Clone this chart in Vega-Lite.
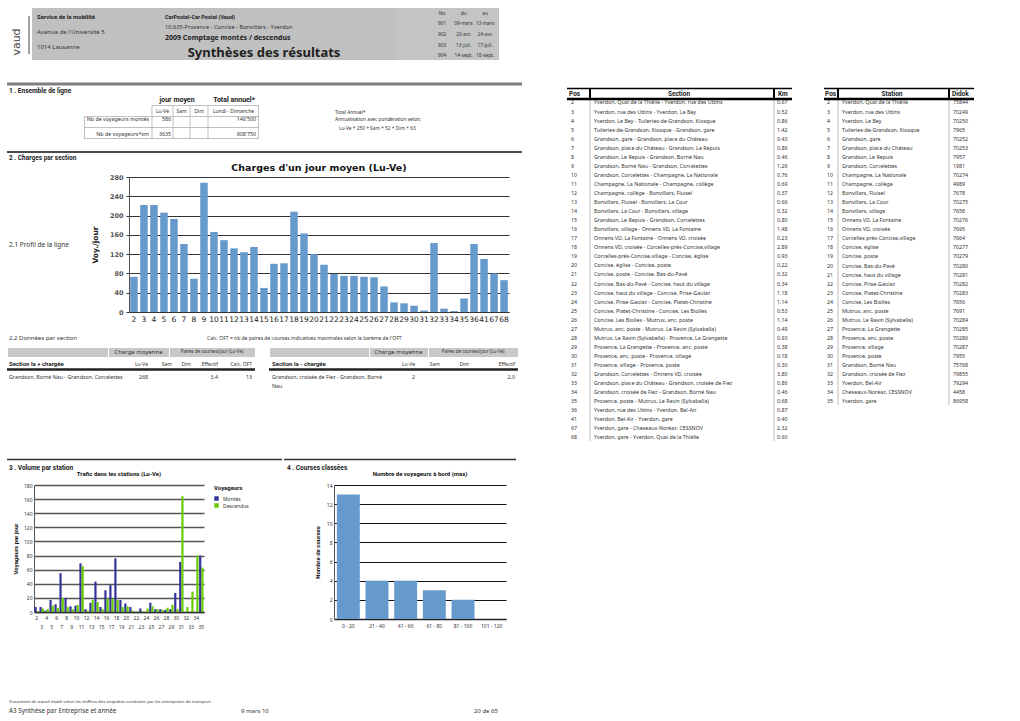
{
"$schema": "https://vega.github.io/schema/vega-lite/v6.json",
"background": "white",
"padding": {"left": 5, "top": 8, "right": 0, "bottom": 0},
"config": {"view": {"stroke": null}, "font": "Noto Sans", "text": {"font": "Noto Sans", "color": "#222"}},
"datasets": {
"charges": [{"pos":2,"charge":73},{"pos":3,"charge":222},{"pos":4,"charge":222},{"pos":5,"charge":206},{"pos":6,"charge":193},{"pos":7,"charge":141},{"pos":8,"charge":69},{"pos":9,"charge":268},{"pos":10,"charge":166},{"pos":11,"charge":149},{"pos":12,"charge":132},{"pos":13,"charge":124},{"pos":14,"charge":135},{"pos":15,"charge":50},{"pos":16,"charge":100},{"pos":17,"charge":101},{"pos":18,"charge":208},{"pos":19,"charge":163},{"pos":20,"charge":120},{"pos":21,"charge":98},{"pos":22,"charge":79},{"pos":23,"charge":75},{"pos":24,"charge":75},{"pos":25,"charge":73},{"pos":26,"charge":72},{"pos":27,"charge":53},{"pos":28,"charge":20},{"pos":29,"charge":18},{"pos":30,"charge":13},{"pos":31,"charge":3},{"pos":32,"charge":143},{"pos":33,"charge":7},{"pos":34,"charge":2},{"pos":35,"charge":28},{"pos":36,"charge":141},{"pos":41,"charge":110},{"pos":67,"charge":80},{"pos":68,"charge":66}],
"trafic": [
{"station":2,"type":"Montés","v":7},{"station":2,"type":"Descendus","v":1},
{"station":3,"type":"Montés","v":7},{"station":3,"type":"Descendus","v":5},
{"station":4,"type":"Montés","v":2},{"station":4,"type":"Descendus","v":4},
{"station":5,"type":"Montés","v":17},{"station":5,"type":"Descendus","v":9},
{"station":6,"type":"Montés","v":11},{"station":6,"type":"Descendus","v":6},
{"station":7,"type":"Montés","v":55},{"station":7,"type":"Descendus","v":20},
{"station":8,"type":"Montés","v":20},{"station":8,"type":"Descendus","v":7},
{"station":9,"type":"Montés","v":8},{"station":9,"type":"Descendus","v":4},
{"station":10,"type":"Montés","v":9},{"station":10,"type":"Descendus","v":10},
{"station":11,"type":"Montés","v":69},{"station":11,"type":"Descendus","v":65},
{"station":12,"type":"Montés","v":4},{"station":12,"type":"Descendus","v":2},
{"station":13,"type":"Montés","v":13},{"station":13,"type":"Descendus","v":17},
{"station":14,"type":"Montés","v":43},{"station":14,"type":"Descendus","v":14},
{"station":15,"type":"Montés","v":7},{"station":15,"type":"Descendus","v":4},
{"station":16,"type":"Montés","v":31},{"station":16,"type":"Descendus","v":19},
{"station":17,"type":"Montés","v":38},{"station":17,"type":"Descendus","v":19},
{"station":18,"type":"Montés","v":76},{"station":18,"type":"Descendus","v":17},
{"station":19,"type":"Montés","v":17},{"station":19,"type":"Descendus","v":7},
{"station":20,"type":"Montés","v":12},{"station":20,"type":"Descendus","v":8},
{"station":21,"type":"Montés","v":7},{"station":21,"type":"Descendus","v":2},
{"station":22,"type":"Montés","v":0},{"station":22,"type":"Descendus","v":1},
{"station":23,"type":"Montés","v":5},{"station":23,"type":"Descendus","v":1},
{"station":24,"type":"Montés","v":0},{"station":24,"type":"Descendus","v":5},
{"station":25,"type":"Montés","v":13},{"station":25,"type":"Descendus","v":8},
{"station":26,"type":"Montés","v":4},{"station":26,"type":"Descendus","v":4},
{"station":27,"type":"Montés","v":4},{"station":27,"type":"Descendus","v":3},
{"station":28,"type":"Montés","v":3},{"station":28,"type":"Descendus","v":6},
{"station":29,"type":"Montés","v":4},{"station":29,"type":"Descendus","v":10},
{"station":30,"type":"Montés","v":27},{"station":30,"type":"Descendus","v":4},
{"station":31,"type":"Montés","v":71},{"station":31,"type":"Descendus","v":164},
{"station":32,"type":"Montés","v":0},{"station":32,"type":"Descendus","v":7},
{"station":33,"type":"Montés","v":0},{"station":33,"type":"Descendus","v":29},
{"station":34,"type":"Montés","v":0},{"station":34,"type":"Descendus","v":80},
{"station":35,"type":"Montés","v":80},{"station":35,"type":"Descendus","v":63}],
"courses": [{"classe":"0 - 20","n":13},{"classe":"21 - 40","n":4},{"classe":"41 - 60","n":4},{"classe":"61 - 80","n":3},{"classe":"81 - 100","n":2},{"classe":"101 - 120","n":0}],
"sections": [
{"Pos":2,"Section":"Yverdon, Quai de la Thièlle - Yverdon, rue des Uttins","Km":"0.67"},
{"Pos":3,"Section":"Yverdon, rue des Uttins - Yverdon, Le Bey","Km":"0.52"},
{"Pos":4,"Section":"Yverdon, Le Bey - Tuileries-de-Grandson, Kiosque","Km":"0.86"},
{"Pos":5,"Section":"Tuileries-de-Grandson, Kiosque - Grandson, gare","Km":"1.42"},
{"Pos":6,"Section":"Grandson, gare - Grandson, place du Château","Km":"0.43"},
{"Pos":7,"Section":"Grandson, place du Château - Grandson, Le Repuis","Km":"0.86"},
{"Pos":8,"Section":"Grandson, Le Repuis - Grandson, Borné Nau","Km":"0.46"},
{"Pos":9,"Section":"Grandson, Borné Nau - Grandson, Corcelettes","Km":"1.26"},
{"Pos":10,"Section":"Grandson, Corcelettes - Champagne, La Nationale","Km":"0.76"},
{"Pos":11,"Section":"Champagne, La Nationale - Champagne, collège","Km":"0.69"},
{"Pos":12,"Section":"Champagne, collège - Bonvillars, Fluisel","Km":"0.37"},
{"Pos":13,"Section":"Bonvillars, Fluisel - Bonvillars, La Cour","Km":"0.66"},
{"Pos":14,"Section":"Bonvillars, La Cour - Bonvillars, village","Km":"0.32"},
{"Pos":15,"Section":"Grandson, Le Repuis - Grandson, Corcelettes","Km":"0.80"},
{"Pos":16,"Section":"Bonvillars, village - Onnens VD, La Fontaine","Km":"1.48"},
{"Pos":17,"Section":"Onnens VD, La Fontaine - Onnens VD, croisée","Km":"0.23"},
{"Pos":18,"Section":"Onnens VD, croisée - Corcelles-près-Concise,village","Km":"2.89"},
{"Pos":19,"Section":"Corcelles-près-Concise,village - Concise, église","Km":"0.93"},
{"Pos":20,"Section":"Concise, église - Concise, poste","Km":"0.22"},
{"Pos":21,"Section":"Concise, poste - Concise, Bas-du-Pavé","Km":"0.32"},
{"Pos":22,"Section":"Concise, Bas-du-Pavé - Concise, haut du village","Km":"0.34"},
{"Pos":23,"Section":"Concise, haut du village - Concise, Prise-Gaulaz","Km":"1.18"},
{"Pos":24,"Section":"Concise, Prise-Gaulaz - Concise, Platet-Christine","Km":"1.14"},
{"Pos":25,"Section":"Concise, Platet-Christine - Concise, Les Biolles","Km":"0.53"},
{"Pos":26,"Section":"Concise, Les Biolles - Mutrux, anc. poste","Km":"1.14"},
{"Pos":27,"Section":"Mutrux, anc. poste - Mutrux, Le Ravin (Sylvabella)","Km":"0.49"},
{"Pos":28,"Section":"Mutrux, Le Ravin (Sylvabella) - Provence, La Grangette","Km":"0.93"},
{"Pos":29,"Section":"Provence, La Grangette - Provence, anc. poste","Km":"0.38"},
{"Pos":30,"Section":"Provence, anc. poste - Provence, village","Km":"0.18"},
{"Pos":31,"Section":"Provence, village - Provence, poste","Km":"0.30"},
{"Pos":32,"Section":"Grandson, Corcelettes - Onnens VD, croisée","Km":"3.80"},
{"Pos":33,"Section":"Grandson, place du Château - Grandson, croisée de Fiez","Km":"0.86"},
{"Pos":34,"Section":"Grandson, croisée de Fiez - Grandson, Borné Nau","Km":"0.46"},
{"Pos":35,"Section":"Provence, poste - Mutrux, Le Ravin (Sylvabella)","Km":"0.68"},
{"Pos":36,"Section":"Yverdon, rue des Uttins - Yverdon, Bel-Air","Km":"0.87"},
{"Pos":41,"Section":"Yverdon, Bel-Air - Yverdon, gare","Km":"0.40"},
{"Pos":67,"Section":"Yverdon, gare - Cheseaux-Noréaz, CESSNOV","Km":"2.32"},
{"Pos":68,"Section":"Yverdon, gare - Yverdon, Quai de la Thièlle","Km":"0.60"}],
"stations": [
{"Pos":2,"Station":"Yverdon, Quai de la Thièlle","Didok":"75844"},
{"Pos":3,"Station":"Yverdon, rue des Uttins","Didok":"70249"},
{"Pos":4,"Station":"Yverdon, Le Bey","Didok":"70250"},
{"Pos":5,"Station":"Tuileries-de-Grandson, Kiosque","Didok":"7965"},
{"Pos":6,"Station":"Grandson, gare","Didok":"70252"},
{"Pos":7,"Station":"Grandson, place du Château","Didok":"70253"},
{"Pos":8,"Station":"Grandson, Le Repuis","Didok":"7957"},
{"Pos":9,"Station":"Grandson, Corcelettes","Didok":"1981"},
{"Pos":10,"Station":"Champagne, La Nationale","Didok":"70274"},
{"Pos":11,"Station":"Champagne, collège","Didok":"4989"},
{"Pos":12,"Station":"Bonvillars, Fluisel","Didok":"7678"},
{"Pos":13,"Station":"Bonvillars, La Cour","Didok":"70275"},
{"Pos":14,"Station":"Bonvillars, village","Didok":"7658"},
{"Pos":15,"Station":"Onnens VD, La Fontaine","Didok":"70276"},
{"Pos":16,"Station":"Onnens VD, croisée","Didok":"7695"},
{"Pos":17,"Station":"Corcelles-près-Concise,village","Didok":"7664"},
{"Pos":18,"Station":"Concise, église","Didok":"70277"},
{"Pos":19,"Station":"Concise, poste","Didok":"70279"},
{"Pos":20,"Station":"Concise, Bas-du-Pavé","Didok":"70280"},
{"Pos":21,"Station":"Concise, haut du village","Didok":"70281"},
{"Pos":22,"Station":"Concise, Prise-Gaulaz","Didok":"70282"},
{"Pos":23,"Station":"Concise, Platet-Christine","Didok":"70283"},
{"Pos":24,"Station":"Concise, Les Biolles","Didok":"7656"},
{"Pos":25,"Station":"Mutrux, anc. poste","Didok":"7691"},
{"Pos":26,"Station":"Mutrux, Le Ravin (Sylvabella)","Didok":"70284"},
{"Pos":27,"Station":"Provence, La Grangette","Didok":"70285"},
{"Pos":28,"Station":"Provence, anc. poste","Didok":"70286"},
{"Pos":29,"Station":"Provence, village","Didok":"70287"},
{"Pos":30,"Station":"Provence, poste","Didok":"7955"},
{"Pos":31,"Station":"Grandson, Borné Nau","Didok":"75768"},
{"Pos":32,"Station":"Grandson, croisée de Fiez","Didok":"79855"},
{"Pos":33,"Station":"Yverdon, Bel-Air","Didok":"79294"},
{"Pos":34,"Station":"Cheseaux-Noréaz, CESSNOV","Didok":"4458"},
{"Pos":35,"Station":"Yverdon, gare","Didok":"86958"}]
},
"spacing": 41,
"resolve": {"scale": {"color": "independent"}, "legend": {"color": "independent"}},
"hconcat": [
{"spacing": 0, "resolve": {"scale": {"color": "independent"}, "legend": {"color": "independent"}}, "vconcat": [
  {"spacing": 0, "bounds": "flush", "hconcat": [
    {"width": 25, "height": 52, "data": {"values": [{"t": "vaud"}]}, "layer": [
      {"mark": {"type": "text", "angle": 270, "font": "DejaVu Sans", "fontSize": 11, "color": "#444"}, "encoding": {"text": {"field": "t"}, "x": {"value": 10}, "y": {"value": 34}}},
      {"mark": {"type": "rule", "stroke": "#444", "strokeWidth": 1}, "encoding": {"x": {"value": 22}, "y": {"value": 8}, "y2": {"value": 46}}}
    ]},
    {"width": 128, "height": 52, "view": {"fill": "#c0c0c0"}, "layer": [
      {"data": {"values": [{"t": "Service de la mobilité"}]}, "mark": {"type": "text", "align": "left", "font": "Roboto", "fontWeight": "bold", "fontSize": 6}, "encoding": {"text": {"field": "t"}, "x": {"value": 5}, "y": {"value": 9}}},
      {"data": {"values": [{"t": "Avenue de l'Université 5"}]}, "mark": {"type": "text", "align": "left", "fontSize": 6, "color": "#333"}, "encoding": {"text": {"field": "t"}, "x": {"value": 5}, "y": {"value": 24}}},
      {"data": {"values": [{"t": "1014 Lausanne"}]}, "mark": {"type": "text", "align": "left", "fontSize": 6, "color": "#333"}, "encoding": {"text": {"field": "t"}, "x": {"value": 5}, "y": {"value": 39}}}
    ]},
    {"width": 235, "height": 52, "view": {"fill": "#c0c0c0"}, "layer": [
      {"data": {"values": [{"t": "CarPostal-Car Postal (Vaud)"}]}, "mark": {"type": "text", "align": "left", "font": "Roboto", "fontWeight": "bold", "fontSize": 5.5}, "encoding": {"text": {"field": "t"}, "x": {"value": 5}, "y": {"value": 9}}},
      {"data": {"values": [{"t": "10.635-Provence - Concise - Bonvillars - Yverdon"}]}, "mark": {"type": "text", "align": "left", "fontSize": 5.7, "color": "#333"}, "encoding": {"text": {"field": "t"}, "x": {"value": 5}, "y": {"value": 19}}},
      {"data": {"values": [{"t": "2009 Comptage montés / descendus"}]}, "mark": {"type": "text", "align": "left", "fontWeight": "bold", "fontSize": 7}, "encoding": {"text": {"field": "t"}, "x": {"value": 5}, "y": {"value": 30}}},
      {"data": {"values": [{"t": "Synthèses des résultats"}]}, "mark": {"type": "text", "align": "center", "fontWeight": "bold", "fontSize": 13}, "encoding": {"text": {"field": "t"}, "x": {"value": 104}, "y": {"value": 45}}}
    ]},
    {"width": 104, "height": 52, "view": {"fill": "#c4c4c4"},
     "data": {"values": [
       {"r":0,"c":"No","t":"No"},{"r":0,"c":"du","t":"du"},{"r":0,"c":"au","t":"au"},
       {"r":1,"c":"No","t":"901"},{"r":1,"c":"du","t":"09-mars"},{"r":1,"c":"au","t":"13-mars"},
       {"r":2,"c":"No","t":"902"},{"r":2,"c":"du","t":"20-avr."},{"r":2,"c":"au","t":"24-avr."},
       {"r":3,"c":"No","t":"903"},{"r":3,"c":"du","t":"13-juil."},{"r":3,"c":"au","t":"17-juil."},
       {"r":4,"c":"No","t":"904"},{"r":4,"c":"du","t":"14-sept."},{"r":4,"c":"au","t":"18-sept."}]},
     "mark": {"type": "text", "fontSize": 4.8, "color": "#333"},
     "encoding": {
       "x": {"field": "c", "type": "nominal", "sort": ["No", "du", "au"], "scale": {"type": "band", "paddingInner": 0, "paddingOuter": 0.92, "align": 0.92}, "axis": null},
       "y": {"field": "r", "type": "ordinal", "scale": {"type": "point", "padding": 0.476, "align": 0.6}, "axis": null},
       "text": {"field": "t"}}}
  ]},
  {"width": 515, "height": 26, "data": {"values": [{}]}, "mark": {"type": "rule", "stroke": "#7f7f7f", "strokeWidth": 3}, "encoding": {"y": {"value": 24}}},
  {"width": 515, "height": 10, "data": {"values": [{"t": "1 . Ensemble de ligne"}]}, "mark": {"type": "text", "align": "left", "font": "Roboto", "fontWeight": "bold", "fontSize": 6.5}, "encoding": {"text": {"field": "t"}, "x": {"value": 2}, "y": {"value": 5}}},
  {"spacing": 0, "bounds": "flush", "hconcat": [
    {"width": 77, "height": 44, "data": {"values": [{}]}, "mark": "text", "encoding": {"text": {"value": " "}}},
    {"width": 175, "height": 44, "layer": [
      {"data": {"values": [{}]}, "mark": {"type": "rule", "stroke": "#b0b0b0", "strokeWidth": 0.8}, "encoding": {"x": {"value": 68}, "x2": {"value": 175}, "y": {"value": 8.5}}},
      {"data": {"values": [{}]}, "mark": {"type": "rule", "stroke": "#b0b0b0", "strokeWidth": 0.8}, "encoding": {"x": {"value": 0}, "x2": {"value": 175}, "y": {"value": 19.5}}},
      {"data": {"values": [{}]}, "mark": {"type": "rule", "stroke": "#b0b0b0", "strokeWidth": 0.8}, "encoding": {"x": {"value": 0}, "x2": {"value": 175}, "y": {"value": 30.5}}},
      {"data": {"values": [{}]}, "mark": {"type": "rule", "stroke": "#b0b0b0", "strokeWidth": 0.8}, "encoding": {"x": {"value": 0}, "x2": {"value": 175}, "y": {"value": 41.5}}},
      {"data": {"values": [{}]}, "mark": {"type": "rule", "stroke": "#b0b0b0", "strokeWidth": 0.8}, "encoding": {"x": {"value": 0.5}, "y": {"value": 19.5}, "y2": {"value": 41.5}}},
      {"data": {"values": [{}]}, "mark": {"type": "rule", "stroke": "#b0b0b0", "strokeWidth": 0.8}, "encoding": {"x": {"value": 68}, "y": {"value": 8.5}, "y2": {"value": 41.5}}},
      {"data": {"values": [{}]}, "mark": {"type": "rule", "stroke": "#b0b0b0", "strokeWidth": 0.8}, "encoding": {"x": {"value": 89}, "y": {"value": 8.5}, "y2": {"value": 41.5}}},
      {"data": {"values": [{}]}, "mark": {"type": "rule", "stroke": "#b0b0b0", "strokeWidth": 0.8}, "encoding": {"x": {"value": 106}, "y": {"value": 8.5}, "y2": {"value": 41.5}}},
      {"data": {"values": [{}]}, "mark": {"type": "rule", "stroke": "#b0b0b0", "strokeWidth": 0.8}, "encoding": {"x": {"value": 124}, "y": {"value": 8.5}, "y2": {"value": 41.5}}},
      {"data": {"values": [{}]}, "mark": {"type": "rule", "stroke": "#b0b0b0", "strokeWidth": 0.8}, "encoding": {"x": {"value": 174.5}, "y": {"value": 8.5}, "y2": {"value": 41.5}}},
      {"data": {"values": [{"t": "jour moyen"}]}, "mark": {"type": "text", "font": "Roboto", "fontWeight": "bold", "fontSize": 7}, "encoding": {"text": {"field": "t"}, "x": {"value": 93}, "y": {"value": 3}}},
      {"data": {"values": [{"t": "Total annuel*"}]}, "mark": {"type": "text", "font": "Roboto", "fontWeight": "bold", "fontSize": 7}, "encoding": {"text": {"field": "t"}, "x": {"value": 150}, "y": {"value": 3}}},
      {"data": {"values": [{"t": "Lu-Ve"}]}, "mark": {"type": "text", "fontSize": 5, "color": "#333"}, "encoding": {"text": {"field": "t"}, "x": {"value": 78.5}, "y": {"value": 14}}},
      {"data": {"values": [{"t": "Sam"}]}, "mark": {"type": "text", "fontSize": 5, "color": "#333"}, "encoding": {"text": {"field": "t"}, "x": {"value": 97.5}, "y": {"value": 14}}},
      {"data": {"values": [{"t": "Dim"}]}, "mark": {"type": "text", "fontSize": 5, "color": "#333"}, "encoding": {"text": {"field": "t"}, "x": {"value": 115}, "y": {"value": 14}}},
      {"data": {"values": [{"t": "Lundi - Dimanche"}]}, "mark": {"type": "text", "fontSize": 5, "color": "#333"}, "encoding": {"text": {"field": "t"}, "x": {"value": 149.5}, "y": {"value": 14}}},
      {"data": {"values": [{"r": 1, "t": "Nb de voyageurs montés"}, {"r": 2, "t": "Nb de voyageurs*km"}]}, "mark": {"type": "text", "align": "right", "fontSize": 5.3, "color": "#333"}, "encoding": {"text": {"field": "t"}, "x": {"value": 65}, "y": {"field": "r", "type": "ordinal", "scale": {"type": "point", "padding": 1.5, "align": 0.758}, "axis": null}}},
      {"data": {"values": [{"r": 1, "t": "586"}, {"r": 2, "t": "3635"}]}, "mark": {"type": "text", "align": "right", "fontSize": 5.3, "color": "#333"}, "encoding": {"text": {"field": "t"}, "x": {"value": 87}, "y": {"field": "r", "type": "ordinal", "axis": null}}},
      {"data": {"values": [{"r": 1, "t": "146'500"}, {"r": 2, "t": "908'750"}]}, "mark": {"type": "text", "align": "right", "fontSize": 5.3, "color": "#333"}, "encoding": {"text": {"field": "t"}, "x": {"value": 172}, "y": {"field": "r", "type": "ordinal", "axis": null}}}
    ]},
    {"width": 263, "height": 44, "layer": [
      {"data": {"values": [{"t": "Total Annuel*"}]}, "mark": {"type": "text", "align": "left", "fontSize": 4.8, "color": "#333"}, "encoding": {"text": {"field": "t"}, "x": {"value": 76}, "y": {"value": 16}}},
      {"data": {"values": [{"t": "Annualisation avec pondération selon:"}]}, "mark": {"type": "text", "align": "left", "fontSize": 4.8, "color": "#333"}, "encoding": {"text": {"field": "t"}, "x": {"value": 76}, "y": {"value": 23}}},
      {"data": {"values": [{"t": "Lu-Ve * 250     + Sam * 52     + Dim * 63"}]}, "mark": {"type": "text", "align": "left", "fontSize": 4.8, "color": "#333"}, "encoding": {"text": {"field": "t"}, "x": {"value": 80}, "y": {"value": 32}}}
    ]}
  ]},
  {"width": 515, "height": 14, "data": {"values": [{}]}, "mark": {"type": "rule", "stroke": "#111", "strokeWidth": 1.5}, "encoding": {"y": {"value": 11}}},
  {"width": 515, "height": 7, "data": {"values": [{"t": "2 . Charges par section"}]}, "mark": {"type": "text", "align": "left", "font": "Roboto", "fontWeight": "bold", "fontSize": 6.5}, "encoding": {"text": {"field": "t"}, "x": {"value": 2}, "y": {"value": 3}}},
  {"spacing": 0, "bounds": "flush", "hconcat": [
    {"width": 122, "height": 135, "data": {"values": [{"t": "2.1 Profil de la ligne"}]}, "mark": {"type": "text", "align": "left", "fontSize": 6.5, "color": "#333"}, "encoding": {"text": {"field": "t"}, "x": {"value": 2}, "y": {"value": 68}}},
    {"width": 380, "height": 135, "data": {"name": "charges"},
     "title": {"text": "Charges d'un jour moyen (Lu-Ve)", "font": "DejaVu Sans", "fontSize": 9.5, "fontWeight": "bold", "color": "#111", "offset": 2},
     "mark": {"type": "bar", "color": "#6699cc"},
     "encoding": {
       "x": {"field": "pos", "type": "ordinal", "scale": {"paddingInner": 0.25, "paddingOuter": 0.12},
             "axis": {"title": null, "labelAngle": 0, "labelFont": "DejaVu Sans", "labelFontSize": 7.5, "labelColor": "#222", "ticks": false, "domainColor": "#333", "domainWidth": 1.2, "labelPadding": 3, "labelOverlap": false}},
       "y": {"field": "charge", "type": "quantitative", "scale": {"domain": [0, 280]},
             "axis": {"values": [0, 40, 80, 120, 160, 200, 240, 280], "title": "Voy./jour", "titleFont": "DejaVu Sans", "titleFontSize": 7.5, "titleFontWeight": "bold", "titleColor": "#222", "titlePadding": 10, "labelFont": "DejaVu Sans", "labelFontSize": 6.5, "labelFontWeight": "bold", "labelColor": "#555", "labelPadding": 3, "tickColor": "#333", "tickSize": 3, "gridColor": "#333", "gridWidth": 1.2, "domainColor": "#555"}}
     }}
  ]},
  {"width": 515, "height": 22, "layer": [
    {"data": {"values": [{"t": "2.2 Données par section"}]}, "mark": {"type": "text", "align": "left", "fontSize": 6, "color": "#333"}, "encoding": {"text": {"field": "t"}, "x": {"value": 2}, "y": {"value": 15}}},
    {"data": {"values": [{"t": "Calc. OFT = nb de paires de courses indicatives maximales selon le barème de l'OFT"}]}, "mark": {"type": "text", "align": "left", "fontSize": 5, "color": "#333"}, "encoding": {"text": {"field": "t"}, "x": {"value": 200}, "y": {"value": 15}}}
  ]},
  {"spacing": 10, "hconcat": [
    {"spacing": 0, "vconcat": [
      {"spacing": 0, "bounds": "flush", "hconcat": [
        {"width": 101, "height": 10, "view": {"fill": "#c8c8c8", "stroke": "#fff"}, "data": {"values": [{}]}, "mark": "text", "encoding": {"text": {"value": " "}}},
        {"width": 61, "height": 10, "view": {"fill": "#c8c8c8", "stroke": "#fff"}, "data": {"values": [{"t": "Charge moyenne"}]}, "mark": {"type": "text", "fontSize": 6, "color": "#333"}, "encoding": {"text": {"field": "t"}}},
        {"width": 86, "height": 10, "view": {"fill": "#c8c8c8", "stroke": "#fff"}, "data": {"values": [{"t": "Paires de courses/jour (Lu-Ve)"}]}, "mark": {"type": "text", "fontSize": 4.5, "color": "#333"}, "encoding": {"text": {"field": "t"}}}
      ]},
      {"width": 248, "height": 13, "layer": [
        {"data": {"values": [{}]}, "mark": {"type": "rule", "stroke": "#222", "strokeWidth": 2.5}, "encoding": {"y": {"value": 11.5}}},
        {"data": {"values": [{"t": "Section la + chargée"}]}, "mark": {"type": "text", "align": "left", "font": "Roboto", "fontWeight": "bold", "fontSize": 6}, "encoding": {"text": {"field": "t"}, "x": {"value": 2}, "y": {"value": 5.5}}},
        {"data": {"values": [{"t": "Lu-Ve"}]}, "mark": {"type": "text", "align": "right", "fontSize": 5, "color": "#333"}, "encoding": {"text": {"field": "t"}, "x": {"value": 141}, "y": {"value": 5.5}}},
        {"data": {"values": [{"t": "Sam"}]}, "mark": {"type": "text", "align": "right", "fontSize": 5, "color": "#333"}, "encoding": {"text": {"field": "t"}, "x": {"value": 165}, "y": {"value": 5.5}}},
        {"data": {"values": [{"t": "Dim"}]}, "mark": {"type": "text", "align": "right", "fontSize": 5, "color": "#333"}, "encoding": {"text": {"field": "t"}, "x": {"value": 184}, "y": {"value": 5.5}}},
        {"data": {"values": [{"t": "Effectif"}]}, "mark": {"type": "text", "align": "right", "fontSize": 5, "color": "#333"}, "encoding": {"text": {"field": "t"}, "x": {"value": 211}, "y": {"value": 5.5}}},
        {"data": {"values": [{"t": "Calc. OFT"}]}, "mark": {"type": "text", "align": "right", "fontSize": 5, "color": "#333"}, "encoding": {"text": {"field": "t"}, "x": {"value": 245}, "y": {"value": 5.5}}}
      ]},
      {"width": 248, "height": 25, "layer": [
        {"data": {"values": [{"t": "Grandson, Borné Nau - Grandson, Corcelettes"}]}, "mark": {"type": "text", "align": "left", "fontSize": 5.3, "color": "#333"}, "encoding": {"text": {"field": "t"}, "x": {"value": 2}, "y": {"value": 6}}},
        {"data": {"values": [{"t": "268"}]}, "mark": {"type": "text", "align": "right", "fontSize": 5.3, "color": "#333"}, "encoding": {"text": {"field": "t"}, "x": {"value": 141}, "y": {"value": 6}}},
        {"data": {"values": [{"t": "3.4"}]}, "mark": {"type": "text", "align": "right", "fontSize": 5.3, "color": "#333"}, "encoding": {"text": {"field": "t"}, "x": {"value": 211}, "y": {"value": 6}}},
        {"data": {"values": [{"t": "13"}]}, "mark": {"type": "text", "align": "right", "fontSize": 5.3, "color": "#333"}, "encoding": {"text": {"field": "t"}, "x": {"value": 245}, "y": {"value": 6}}}
      ]}
    ]},
    {"spacing": 0, "vconcat": [
      {"spacing": 0, "bounds": "flush", "hconcat": [
        {"width": 100, "height": 10, "view": {"fill": "#c8c8c8", "stroke": "#fff"}, "data": {"values": [{}]}, "mark": "text", "encoding": {"text": {"value": " "}}},
        {"width": 59, "height": 10, "view": {"fill": "#c8c8c8", "stroke": "#fff"}, "data": {"values": [{"t": "Charge moyenne"}]}, "mark": {"type": "text", "fontSize": 6, "color": "#333"}, "encoding": {"text": {"field": "t"}}},
        {"width": 90, "height": 10, "view": {"fill": "#c8c8c8", "stroke": "#fff"}, "data": {"values": [{"t": "Paires de courses/jour (Lu-Ve)"}]}, "mark": {"type": "text", "fontSize": 4.5, "color": "#333"}, "encoding": {"text": {"field": "t"}}}
      ]},
      {"width": 249, "height": 13, "layer": [
        {"data": {"values": [{}]}, "mark": {"type": "rule", "stroke": "#222", "strokeWidth": 2.5}, "encoding": {"y": {"value": 11.5}}},
        {"data": {"values": [{"t": "Section la - chargée"}]}, "mark": {"type": "text", "align": "left", "font": "Roboto", "fontWeight": "bold", "fontSize": 6}, "encoding": {"text": {"field": "t"}, "x": {"value": 3}, "y": {"value": 5.5}}},
        {"data": {"values": [{"t": "Lu-Ve"}]}, "mark": {"type": "text", "align": "right", "fontSize": 5, "color": "#333"}, "encoding": {"text": {"field": "t"}, "x": {"value": 146}, "y": {"value": 5.5}}},
        {"data": {"values": [{"t": "Sam"}]}, "mark": {"type": "text", "align": "right", "fontSize": 5, "color": "#333"}, "encoding": {"text": {"field": "t"}, "x": {"value": 171}, "y": {"value": 5.5}}},
        {"data": {"values": [{"t": "Dim"}]}, "mark": {"type": "text", "align": "right", "fontSize": 5, "color": "#333"}, "encoding": {"text": {"field": "t"}, "x": {"value": 200}, "y": {"value": 5.5}}},
        {"data": {"values": [{"t": "Effectif"}]}, "mark": {"type": "text", "align": "right", "fontSize": 5, "color": "#333"}, "encoding": {"text": {"field": "t"}, "x": {"value": 246}, "y": {"value": 5.5}}}
      ]},
      {"width": 249, "height": 25, "layer": [
        {"data": {"values": [{"t": "Grandson, croisée de Fiez - Grandson, Borné"}]}, "mark": {"type": "text", "align": "left", "fontSize": 5.3, "color": "#333"}, "encoding": {"text": {"field": "t"}, "x": {"value": 3}, "y": {"value": 6}}},
        {"data": {"values": [{"t": "Nau"}]}, "mark": {"type": "text", "align": "left", "fontSize": 5.3, "color": "#333"}, "encoding": {"text": {"field": "t"}, "x": {"value": 3}, "y": {"value": 15}}},
        {"data": {"values": [{"t": "2"}]}, "mark": {"type": "text", "align": "right", "fontSize": 5.3, "color": "#333"}, "encoding": {"text": {"field": "t"}, "x": {"value": 146}, "y": {"value": 6}}},
        {"data": {"values": [{"t": "2.0"}]}, "mark": {"type": "text", "align": "right", "fontSize": 5.3, "color": "#333"}, "encoding": {"text": {"field": "t"}, "x": {"value": 246}, "y": {"value": 6}}}
      ]}
    ]}
  ]},
  {"spacing": 0, "resolve": {"scale": {"color": "independent"}, "legend": {"color": "independent"}}, "hconcat": [
    {"spacing": 0, "resolve": {"scale": {"color": "independent"}, "legend": {"color": "independent"}}, "vconcat": [
      {"width": 275, "height": 65, "data": {"values": [{}]}, "mark": {"type": "rule", "stroke": "#333", "strokeWidth": 1.5}, "encoding": {"y": {"value": 63.5}}},
      {"width": 275, "height": 10, "data": {"values": [{"t": "3 . Volume par station"}]}, "mark": {"type": "text", "align": "left", "font": "Roboto", "fontWeight": "bold", "fontSize": 6.5}, "encoding": {"text": {"field": "t"}, "x": {"value": 2}, "y": {"value": 6.5}}},
      {"spacing": 0, "bounds": "flush", "resolve": {"scale": {"color": "independent"}, "legend": {"color": "independent"}}, "hconcat": [
        {"width": 27, "height": 127, "data": {"values": [{}]}, "mark": "text", "encoding": {"text": {"value": " "}}},
        {"width": 170, "height": 127, "data": {"name": "trafic"},
         "title": {"text": "Trafic dans les stations (Lu-Ve)", "font": "Roboto", "fontSize": 6, "fontWeight": "bold", "color": "#111", "offset": 6},
         "mark": {"type": "bar"},
         "encoding": {
           "x": {"field": "station", "type": "ordinal", "scale": {"paddingInner": 0.12, "paddingOuter": 0.1},
                 "axis": {"title": null, "labelAngle": 0, "labelFontSize": 5, "labelColor": "#333", "ticks": false, "domainColor": "#333", "domainWidth": 1.5, "labelPadding": 3, "labelOverlap": false, "labelLineHeight": 9,
                          "labelExpr": "datum.value % 2 == 1 ? ['', datum.label] : datum.label"}},
           "xOffset": {"field": "type", "type": "nominal", "sort": ["Montés", "Descendus"]},
           "y": {"field": "v", "type": "quantitative", "scale": {"domain": [0, 180]},
                 "axis": {"values": [0, 20, 40, 60, 80, 100, 120, 140, 160, 180], "title": "Voyageurs par jour", "titleFont": "Roboto", "titleFontSize": 6, "titleFontWeight": "bold", "titleColor": "#111", "titlePadding": 5, "labelFontSize": 5, "labelColor": "#333", "labelPadding": 2, "ticks": false, "gridColor": "#555", "gridWidth": 1.5, "domainColor": "#555"}},
           "color": {"field": "type", "type": "nominal", "scale": {"domain": ["Montés", "Descendus"], "range": ["#333399", "#66cc00"]},
                     "legend": {"title": "Voyageurs", "titleFont": "Roboto", "titleFontSize": 6, "titleFontWeight": "bold", "titleColor": "#111", "labelFontSize": 5, "labelColor": "#333", "symbolType": "square", "symbolSize": 20, "symbolStrokeWidth": 0, "orient": "right", "offset": 10, "padding": 0, "rowPadding": 1}}
         }}
      ]}
    ]},
    {"spacing": 0, "vconcat": [
      {"width": 232, "height": 65, "data": {"values": [{}]}, "mark": {"type": "rule", "stroke": "#333", "strokeWidth": 1.5}, "encoding": {"y": {"value": 63.5}}},
      {"width": 232, "height": 10, "data": {"values": [{"t": "4 . Courses classées"}]}, "mark": {"type": "text", "align": "left", "font": "Roboto", "fontWeight": "bold", "fontSize": 6.5}, "encoding": {"text": {"field": "t"}, "x": {"value": 3}, "y": {"value": 6.5}}},
      {"spacing": 0, "bounds": "flush", "hconcat": [
        {"width": 50, "height": 134, "data": {"values": [{}]}, "mark": "text", "encoding": {"text": {"value": " "}}},
        {"width": 172, "height": 134, "data": {"name": "courses"},
         "title": {"text": "Nombre de voyageurs à bord (max)", "font": "Roboto", "fontSize": 6, "fontWeight": "bold", "color": "#111", "offset": 6},
         "mark": {"type": "bar", "color": "#6699cc"},
         "encoding": {
           "x": {"field": "classe", "type": "ordinal", "sort": null, "scale": {"paddingInner": 0.2, "paddingOuter": 0.1},
                 "axis": {"title": null, "labelAngle": 0, "labelFontSize": 5, "labelColor": "#333", "ticks": false, "domainColor": "#222", "domainWidth": 1.5, "labelPadding": 4}},
           "y": {"field": "n", "type": "quantitative", "scale": {"domain": [0, 14]},
                 "axis": {"values": [0, 2, 4, 6, 8, 10, 12, 14], "title": "Nombre de courses", "titleFont": "Roboto", "titleFontSize": 6, "titleFontWeight": "bold", "titleColor": "#111", "titlePadding": 6, "labelFontSize": 5, "labelColor": "#333", "labelPadding": 2, "ticks": false, "gridColor": "#111", "gridWidth": 1.2, "domainColor": "#555"}}
         }}
      ]}
    ]}
  ]},
  {"width": 515, "height": 88, "layer": [
    {"data": {"values": [{"t": "Document de travail établi selon les chiffres des enquêtes conduites par les entreprises de transport"}]}, "mark": {"type": "text", "align": "left", "fontSize": 4.3, "color": "#333"}, "encoding": {"text": {"field": "t"}, "x": {"value": 2}, "y": {"value": 73}}},
    {"data": {"values": [{"t": "A3 Synthèse par Entreprise et année"}]}, "mark": {"type": "text", "align": "left", "fontSize": 6.3, "color": "#333"}, "encoding": {"text": {"field": "t"}, "x": {"value": 2}, "y": {"value": 82}}},
    {"data": {"values": [{"t": "9 mars 10"}]}, "mark": {"type": "text", "align": "left", "fontSize": 6, "color": "#333"}, "encoding": {"text": {"field": "t"}, "x": {"value": 234}, "y": {"value": 82}}},
    {"data": {"values": [{"t": "20 de 65"}]}, "mark": {"type": "text", "align": "left", "fontSize": 6, "color": "#333"}, "encoding": {"text": {"field": "t"}, "x": {"value": 467}, "y": {"value": 82}}}
  ]}
]},
{"spacing": 0, "vconcat": [
  {"width": 400, "height": 79, "data": {"values": [{}]}, "mark": "text", "encoding": {"text": {"value": " "}}},
  {"spacing": 0, "bounds": "flush", "hconcat": [
    {"width": 225, "height": 353, "data": {"name": "sections"}, "layer": [
      {"data": {"values": [{}]}, "mark": {"type": "rule", "stroke": "#aaa", "strokeWidth": 0.8}, "encoding": {"x": {"value": 23}}},
      {"data": {"values": [{}]}, "mark": {"type": "rule", "stroke": "#aaa", "strokeWidth": 0.8}, "encoding": {"x": {"value": 207}}},
      {"data": {"values": [{}]}, "mark": {"type": "rule", "stroke": "#000", "strokeWidth": 2}, "encoding": {"x": {"value": 23}, "y": {"value": 0}, "y2": {"value": 11}}},
      {"data": {"values": [{}]}, "mark": {"type": "rule", "stroke": "#000", "strokeWidth": 2}, "encoding": {"x": {"value": 207}, "y": {"value": 0}, "y2": {"value": 11}}},
      {"data": {"values": [{}]}, "mark": {"type": "rule", "stroke": "#000", "strokeWidth": 1.5}, "encoding": {"y": {"value": 0.5}}},
      {"data": {"values": [{}]}, "mark": {"type": "rule", "stroke": "#000", "strokeWidth": 2.5}, "encoding": {"y": {"value": 11}}},
      {"data": {"values": [{"t": "Pos"}]}, "mark": {"type": "text", "align": "left", "font": "Roboto", "fontWeight": "bold", "fontSize": 6.5}, "encoding": {"text": {"field": "t"}, "x": {"value": 2}, "y": {"value": 5.5}}},
      {"data": {"values": [{"t": "Section"}]}, "mark": {"type": "text", "font": "Roboto", "fontWeight": "bold", "fontSize": 6.5}, "encoding": {"text": {"field": "t"}, "x": {"value": 112}, "y": {"value": 5.5}}},
      {"data": {"values": [{"t": "Km"}]}, "mark": {"type": "text", "align": "left", "font": "Roboto", "fontWeight": "bold", "fontSize": 6.5}, "encoding": {"text": {"field": "t"}, "x": {"value": 211}, "y": {"value": 5.5}}},
      {"mark": {"type": "text", "align": "left", "fontSize": 5.3, "color": "#333"}, "encoding": {"text": {"field": "Pos"}, "x": {"value": 4}, "y": {"field": "Pos", "type": "ordinal", "scale": {"type": "point", "padding": 1.111, "align": 0.8}, "axis": null}}},
      {"mark": {"type": "text", "align": "left", "fontSize": 5.3, "color": "#333"}, "encoding": {"text": {"field": "Section"}, "x": {"value": 27}, "y": {"field": "Pos", "type": "ordinal", "axis": null}}},
      {"mark": {"type": "text", "align": "left", "fontSize": 5.3, "color": "#333"}, "encoding": {"text": {"field": "Km"}, "x": {"value": 210}, "y": {"field": "Pos", "type": "ordinal", "axis": null}}}
    ]},
    {"width": 32, "height": 10, "data": {"values": [{}]}, "mark": "text", "encoding": {"text": {"value": " "}}},
    {"width": 150, "height": 317, "data": {"name": "stations"}, "layer": [
      {"data": {"values": [{}]}, "mark": {"type": "rule", "stroke": "#aaa", "strokeWidth": 0.8}, "encoding": {"x": {"value": 14}}},
      {"data": {"values": [{}]}, "mark": {"type": "rule", "stroke": "#aaa", "strokeWidth": 0.8}, "encoding": {"x": {"value": 125}}},
      {"data": {"values": [{}]}, "mark": {"type": "rule", "stroke": "#000", "strokeWidth": 2}, "encoding": {"x": {"value": 14}, "y": {"value": 0}, "y2": {"value": 11}}},
      {"data": {"values": [{}]}, "mark": {"type": "rule", "stroke": "#000", "strokeWidth": 2}, "encoding": {"x": {"value": 125}, "y": {"value": 0}, "y2": {"value": 11}}},
      {"data": {"values": [{}]}, "mark": {"type": "rule", "stroke": "#000", "strokeWidth": 1.5}, "encoding": {"y": {"value": 0.5}}},
      {"data": {"values": [{}]}, "mark": {"type": "rule", "stroke": "#000", "strokeWidth": 2.5}, "encoding": {"y": {"value": 11}}},
      {"data": {"values": [{"t": "Pos"}]}, "mark": {"type": "text", "align": "left", "font": "Roboto", "fontWeight": "bold", "fontSize": 6.5}, "encoding": {"text": {"field": "t"}, "x": {"value": 1}, "y": {"value": 5.5}}},
      {"data": {"values": [{"t": "Station"}]}, "mark": {"type": "text", "font": "Roboto", "fontWeight": "bold", "fontSize": 6.5}, "encoding": {"text": {"field": "t"}, "x": {"value": 68}, "y": {"value": 5.5}}},
      {"data": {"values": [{"t": "Didok"}]}, "mark": {"type": "text", "align": "left", "font": "Roboto", "fontWeight": "bold", "fontSize": 6.5}, "encoding": {"text": {"field": "t"}, "x": {"value": 128}, "y": {"value": 5.5}}},
      {"mark": {"type": "text", "align": "left", "fontSize": 5.3, "color": "#333"}, "encoding": {"text": {"field": "Pos"}, "x": {"value": 3}, "y": {"field": "Pos", "type": "ordinal", "scale": {"type": "point", "padding": 1.111, "align": 0.8}, "axis": null}}},
      {"mark": {"type": "text", "align": "left", "fontSize": 5.3, "color": "#333"}, "encoding": {"text": {"field": "Station"}, "x": {"value": 18}, "y": {"field": "Pos", "type": "ordinal", "axis": null}}},
      {"mark": {"type": "text", "align": "left", "fontSize": 5.3, "color": "#333"}, "encoding": {"text": {"field": "Didok"}, "x": {"value": 129}, "y": {"field": "Pos", "type": "ordinal", "axis": null}}}
    ]}
  ]}
]}
]
}
